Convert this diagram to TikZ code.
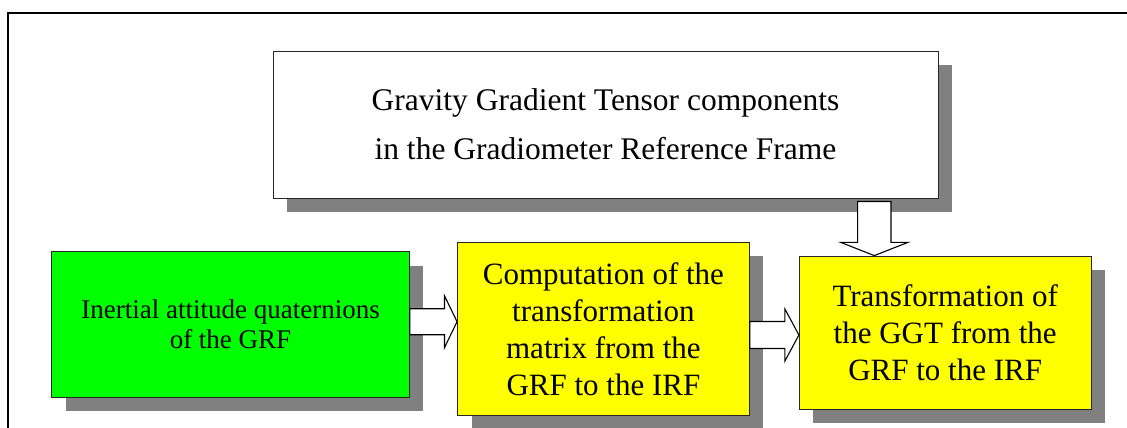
\documentclass[tikz,border=0pt]{standalone}
\usepackage{fontspec}
\setmainfont{Liberation Serif}
\usetikzlibrary{calc,shadows}
\definecolor{shadowgray}{RGB}{128,128,128}
\definecolor{boxgreen}{RGB}{0,255,0}
\definecolor{boxyellow}{RGB}{255,255,0}
\begin{document}
\begin{tikzpicture}[x=1pt,y=-1pt,
  box/.style={draw=black!85, line width=0.9pt, inner sep=0pt, align=center,
    drop shadow={shadow xshift=14pt, shadow yshift=-14pt, fill=shadowgray, opacity=1, draw=none}},
  blockarrow/.style={draw=black, line width=1.1pt, fill=white, line join=miter}]
\useasboundingbox (0,0) rectangle (1127,428);
\fill[white] (0,0) rectangle (1127,428);
\draw[line width=2.3pt] (8,429) -- (8,13) -- (1128,13);

\node[box, fill=white, minimum width=665pt, minimum height=147pt,
  font=\fontsize{31.5}{49}\selectfont] (T) at (605.5,124.5)
  {Gravity Gradient Tensor components\\in the Gradiometer Reference Frame};
\node[box, fill=boxgreen, minimum width=357.6pt, minimum height=145.6pt,
  font=\fontsize{27}{30}\selectfont] (G) at (230.5,324.5)
  {Inertial attitude quaternions\\of the GRF};
\node[box, fill=boxyellow, minimum width=291.8pt, minimum height=173pt,
  font=\fontsize{31}{37}\selectfont] (C) at (603.4,328.8)
  {Computation of the\\transformation\\matrix from the\\GRF to the IRF};
\node[box, fill=boxyellow, minimum width=291.7pt, minimum height=153.3pt,
  font=\fontsize{31}{37}\selectfont] (X) at (945.2,332.7)
  {Transformation of\\the GGT from the\\GRF to the IRF};

% arrow G -> C
\coordinate (As) at (G.east |- 0,321.7);
\coordinate (At) at (C.west |- 0,321.7);
\draw[blockarrow] ($(As)+(0,-13)$) -- ($(At)+(-12.6,-13)$) -- ($(At)+(-12.6,-26)$)
  -- (At) -- ($(At)+(-12.6,26)$) -- ($(At)+(-12.6,13)$) -- ($(As)+(0,13)$) -- cycle;

% arrow C -> X
\coordinate (Bs) at (C.east |- 0,335);
\coordinate (Bt) at (X.west |- 0,335);
\draw[blockarrow] ($(Bs)+(0,-13.5)$) -- ($(Bt)+(-14,-13.5)$) -- ($(Bt)+(-14,-26)$)
  -- (Bt) -- ($(Bt)+(-14,26)$) -- ($(Bt)+(-14,13.5)$) -- ($(Bs)+(0,13.5)$) -- cycle;

% arrow T -> X
\coordinate (Dx) at (874.3,0);
\coordinate (Ds) at ($(Dx |- T.south)+(0,3)$);
\coordinate (Dt) at (Dx |- X.north);
\draw[blockarrow] ($(Ds)+(-16.7,0)$) -- ($(Dt)+(-16.7,-13.3)$) -- ($(Dt)+(-33.8,-13.3)$)
  -- (Dt) -- ($(Dt)+(33.8,-13.3)$) -- ($(Dt)+(16.7,-13.3)$) -- ($(Ds)+(16.7,0)$) -- cycle;
\end{tikzpicture}
\end{document}
